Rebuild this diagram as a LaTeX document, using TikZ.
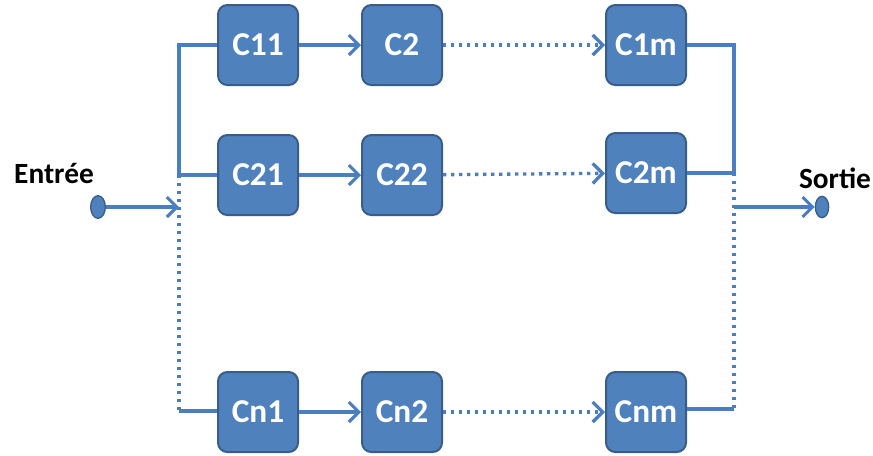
\documentclass[tikz,border=0pt]{standalone}
\usepackage{fontspec}
\setmainfont{Carlito}
\usetikzlibrary{arrows.meta,shapes.geometric}

\definecolor{blkfill}{RGB}{79,129,189}
\definecolor{blkline}{RGB}{56,93,138}
\definecolor{wirecol}{RGB}{74,126,192}

\tikzset{every picture/.style={line width=0.75pt}}
\tikzset{
  blk/.style={draw=blkline, line width=1.5pt, fill=blkfill, rounded corners=7pt,
    minimum width=60pt, minimum height=60pt, inner sep=0pt, text=white,
    font=\fontsize{25}{25}\selectfont\bfseries},
  wire/.style={draw=wirecol, line width=2.3pt},
  dots/.style={wire, line width=2.5pt, dash pattern={on 2.5pt off 3.5pt}},
  tip/.style={-{Straight Barb[length=7.5pt,width=15pt]}},
  port/.style={ellipse, draw=blkline, line width=1pt, fill=blkfill, inner sep=0pt},
  lbl/.style={inner sep=0.75pt, font=\fontsize{22}{22}\selectfont\bfseries}
}

\begin{document}
\begin{tikzpicture}[x=0.75pt,y=0.75pt,yscale=-1,xscale=1]
\useasboundingbox (0,0) rectangle (873,455);

%Rounded Rect
\node [blk] (c11) at (258,45) {C11};
\node [blk] (c12) at (402,45) {C2};
\node [blk] (c1m) at (646,45) {C1m};
%Rounded Rect
\node [blk] (c21) at (258,175) {C21};
\node [blk] (c22) at (402,175) {C22};
\node [blk] (c2m) at (646,173) {C2m};
%Rounded Rect
\node [blk] (cn1) at (258,412) {Cn1};
\node [blk] (cn2) at (402,412) {Cn2};
\node [blk] (cnm) at (646,412) {Cnm};

%Shape: Ellipse
\node [port, minimum width=11pt, minimum height=17pt] (ein) at (98,207) {};
\node [port, minimum width=10pt, minimum height=16pt] (sout) at (822,207) {};

%Bus points
\coordinate (ltop) at (179,45);
\coordinate (lmid) at (179,175);
\coordinate (lin) at (179,207);
\coordinate (lbot) at (179,411);
\coordinate (rtop) at (734,45);
\coordinate (rmid) at (734,173);
\coordinate (rout) at (734,207);
\coordinate (rbot) at (734,409);

%Straight Lines
\draw [wire] (c11) -- (ltop) -- (lmid) -- (c21) ;
\draw [dots] (lmid) -- (lbot) ;
\draw [wire] (lbot) -- (lbot -| cn1.west) ;
\draw [wire,tip] (ein) -- (lin) ;
%Straight Lines
\draw [wire] (c1m) -- (rtop) -- (rmid) -- (c2m) ;
\draw [dots] (rmid) -- (rbot) ;
\draw [wire] (rbot) -- (rbot -| cnm.east) ;
\draw [wire,tip] (rout) -- (sout) ;

%Straight Lines
\draw [wire,tip] (c11) -- (c12) ;
\draw [dots,tip] (c12) -- (c1m) ;
\draw [wire,tip] (c21) -- (c22) ;
\draw [dots,tip] (c22) -- (c2m) ;
\draw [wire,tip] (cn1) -- (cn2) ;
\draw [dots,tip] (cn2) -- (cnm) ;

% Text Node
\node [lbl] (tin) at (54,173) {Entrée};
% Text Node
\node [lbl] (tout) at (835,178) {Sortie};

\end{tikzpicture}
\end{document}
